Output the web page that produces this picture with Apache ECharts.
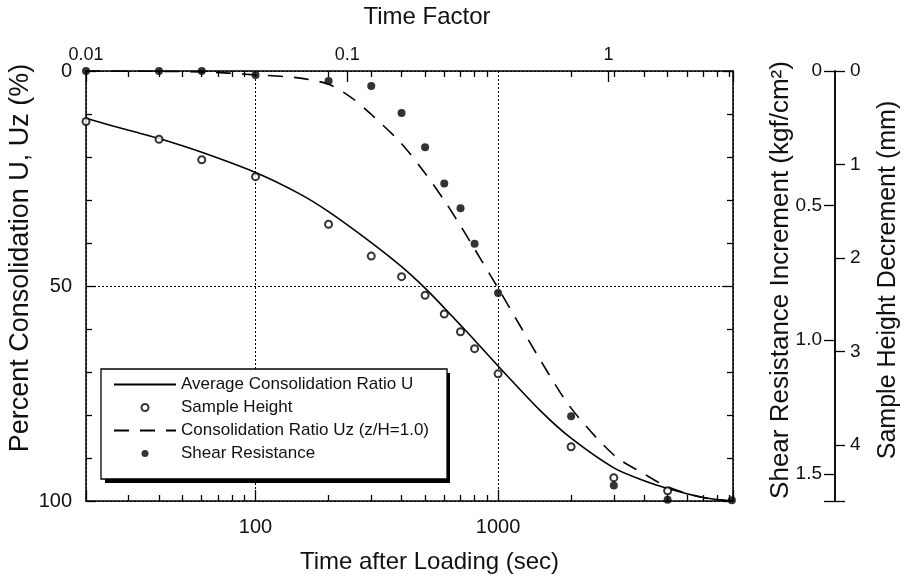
<!DOCTYPE html>
<html>
<head>
<meta charset="utf-8">
<script src="https://cdn.jsdelivr.net/npm/echarts@6/dist/echarts.min.js"></script>
<style>
html, body { margin: 0; padding: 0; background: #fff; }
#chart { width: 904px; height: 580px; }
</style>
</head>
<body>
<div id="chart"></div>
<script>
// average consolidation ratio U (%)
const avgTime = [20, 30, 40, 60, 100, 150, 200, 300, 400, 500, 600, 700, 800, 1000, 1500, 2000, 3000, 4000, 5000, 7000, 9200]
const avgU = [11.0, 13.8, 15.7, 18.9, 23.6, 28.4, 32.7, 39.9, 45.5, 50.5, 55.1, 59.1, 62.6, 68.6, 79.1, 85.4, 92.3, 95.3, 97.1, 99.2, 100]

// consolidation ratio Uz at z/H = 1.0 (%)
const uzTime = [20, 60, 100, 150, 200, 250, 300, 400, 500, 600, 700, 800, 1000, 1500, 2000, 3000, 4000, 5000, 7000, 9200]
const uzVal = [0, 0.2, 0.9, 1.6, 3.1, 6.3, 10.1, 16.9, 23.8, 30.1, 36.0, 41.4, 50.5, 67.4, 78.4, 89.3, 93.7, 96.7, 99.2, 100]

// sample height decrement (mm)
const heightTime = [20, 40, 60, 100, 200, 300, 400, 500, 600, 700, 800, 1000, 2000, 3000, 5000]
const heightMm = [0.54, 0.73, 0.95, 1.13, 1.64, 1.98, 2.20, 2.40, 2.60, 2.79, 2.97, 3.24, 4.02, 4.35, 4.49]

// shear resistance increment (kgf/cm2)
const shearTime = [20, 40, 60, 100, 200, 300, 400, 500, 600, 700, 800, 1000, 2000, 3000, 5000, 9200]
const shearVal = [0, 0, 0, 0.015, 0.037, 0.056, 0.156, 0.284, 0.419, 0.511, 0.643, 0.826, 1.285, 1.542, 1.595, 1.597]

// minor ticks of the time axis (sec)
const minorTimeTicks = [30, 40, 50, 60, 70, 80, 90, 200, 300, 400, 500, 600, 700, 800, 900,
    2000, 3000, 4000, 5000, 6000, 7000, 8000, 9000]

const timeMin = 20
const timeMax = 9300
const font = 'Liberation Sans, Arial, Helvetica, sans-serif'
const black = '#000'
const textColor = '#111'
const noDot = { color: 'rgba(0,0,0,0)', borderColor: 'rgba(0,0,0,0)', borderWidth: 0 }

function pairs(xs, ys) {
    return xs.map((x, i) => [x, ys[i]])
}

function decadeLabel(v) {
    const p = Math.log10(v)
    return Math.abs(p - Math.round(p)) < 1e-6 ? String(+v.toPrecision(6)) : ''
}

const frameLine = { show: true, onZero: false, lineStyle: { color: black, width: 1.5 } }
const tickLine = { color: black, width: 1.3 }

function minorTimeAxis(position) {
    return {
        type: 'value',
        position,
        min: Math.log10(timeMin),
        max: Math.log10(timeMax),
        axisLine: { show: false, onZero: false },
        axisTick: { show: true, inside: true, length: 6, lineStyle: tickLine, customValues: minorTimeTicks.map(Math.log10) },
        axisLabel: { show: false },
        splitLine: { show: false }
    }
}

const chart = echarts.init(document.getElementById('chart'))

const option = {
    backgroundColor: '#fff',
    animation: false,
    textStyle: { fontFamily: font, color: textColor },
    grid: { left: 86, right: 171, top: 71, bottom: 79, outerBoundsMode: 'none', containLabel: false },
    // offset shadow behind the legend box
    graphic: [
        {
            type: 'rect',
            left: 105,
            top: 373,
            z: 3,
            silent: true,
            shape: { width: 345, height: 110 },
            style: { fill: black }
        }
    ],
    legend: {
        orient: 'vertical',
        left: 101,
        top: 369,
        z: 6,
        padding: [7, 18, 17, 12],
        itemWidth: 62,
        itemHeight: 7,
        itemGap: 6,
        itemTextGap: 8,
        backgroundColor: '#fff',
        borderColor: black,
        borderWidth: 1.3,
        textStyle: { fontSize: 17, color: textColor, fontFamily: font },
        data: [
            { name: 'Average Consolidation Ratio U', itemStyle: noDot },
            { name: 'Sample Height' },
            { name: 'Consolidation Ratio Uz (z/H=1.0)', itemStyle: noDot },
            { name: 'Shear Resistance' }
        ]
    },
    xAxis: [
        {
            type: 'log',
            position: 'bottom',
            min: timeMin,
            max: timeMax,
            name: 'Time after Loading (sec)',
            nameLocation: 'middle',
            nameGap: 49,
            nameMoveOverlap: false,
            nameTextStyle: { fontSize: 24, color: textColor, fontFamily: font, padding: [0, 0, 0, 40] },
            axisLine: frameLine,
            axisTick: { inside: true, length: 11, lineStyle: tickLine },
            axisLabel: { fontSize: 20, color: textColor, margin: 16, formatter: decadeLabel },
            splitLine: { show: true, lineStyle: { color: black, width: 1, type: [2, 2] } }
        },
        {
            type: 'log',
            position: 'top',
            min: 0.01,
            max: 3.0,
            name: 'Time Factor',
            nameLocation: 'middle',
            nameGap: 42,
            nameMoveOverlap: false,
            nameTextStyle: { fontSize: 24, color: textColor, fontFamily: font, padding: [0, 0, 0, 35] },
            axisLine: frameLine,
            axisTick: { inside: true, length: 11, lineStyle: tickLine },
            axisLabel: { fontSize: 18, color: textColor, margin: 7, formatter: decadeLabel },
            splitLine: { show: false }
        },
        minorTimeAxis('top'),
        minorTimeAxis('bottom')
    ],
    yAxis: [
        {
            type: 'value',
            position: 'left',
            min: 0,
            max: 100,
            interval: 50,
            inverse: true,
            name: 'Percent Consolidation U, Uz (%)',
            nameLocation: 'middle',
            nameGap: 52,
            nameRotate: 90,
            nameMoveOverlap: false,
            nameTextStyle: { fontSize: 27, color: textColor, fontFamily: font, padding: [0, 0, 0, 56] },
            axisLine: frameLine,
            axisTick: { show: true, inside: true, length: 10, lineStyle: tickLine },
            minorTick: { show: true, splitNumber: 5, length: 6, lineStyle: tickLine },
            axisLabel: { fontSize: 20, color: textColor, margin: 14 },
            splitLine: { show: true, lineStyle: { color: black, width: 1, type: [2, 2] } }
        },
        {
            type: 'value',
            position: 'right',
            offset: 0,
            min: 0,
            max: 100,
            interval: 50,
            inverse: true,
            axisLine: frameLine,
            axisTick: { show: true, inside: true, length: 10, lineStyle: tickLine },
            minorTick: { show: true, splitNumber: 5, length: 6, lineStyle: tickLine },
            axisLabel: { show: false },
            splitLine: { show: false }
        },
        {
            type: 'value',
            position: 'right',
            offset: 102,
            min: 0,
            max: 1.6,
            interval: 0.5,
            inverse: true,
            name: 'Shear Resistance Increment (kgf/cm²)',
            nameLocation: 'middle',
            nameGap: -67,
            nameRotate: 90,
            nameMoveOverlap: false,
            nameTextStyle: { fontSize: 26, color: textColor, fontFamily: font, padding: [0, 0, 0, 12] },
            axisLine: frameLine,
            axisTick: { show: true, inside: true, length: 11, lineStyle: tickLine },
            axisLabel: {
                inside: true,
                fontSize: 19,
                color: textColor,
                margin: 13,
                formatter: v => Math.abs(v * 2 - Math.round(v * 2)) < 1e-6 ? (v === 0 ? '0' : v.toFixed(1)) : ''
            },
            splitLine: { show: false }
        },
        {
            type: 'value',
            position: 'right',
            offset: 102,
            min: 0,
            max: 4.6,
            interval: 1,
            inverse: true,
            name: 'Sample Height Decrement (mm)',
            nameLocation: 'middle',
            nameGap: 41,
            nameRotate: 90,
            nameMoveOverlap: false,
            nameTextStyle: { fontSize: 25, color: textColor, fontFamily: font, padding: [0, 0, 0, 12] },
            axisLine: frameLine,
            axisTick: { show: true, inside: false, length: 10, lineStyle: tickLine },
            axisLabel: {
                fontSize: 19,
                color: textColor,
                margin: 15,
                formatter: v => Number.isInteger(v) ? String(v) : ''
            },
            splitLine: { show: false }
        }
    ],
    series: [
        {
            name: 'Average Consolidation Ratio U',
            type: 'line',
            xAxisIndex: 0,
            yAxisIndex: 0,
            data: pairs(avgTime, avgU),
            smooth: 0.3,
            symbol: 'none',
            lineStyle: { color: black, width: 1.6 },
            itemStyle: { color: black }
        },
        {
            name: 'Sample Height',
            type: 'scatter',
            xAxisIndex: 0,
            yAxisIndex: 3,
            data: pairs(heightTime, heightMm),
            symbol: 'emptyCircle',
            symbolSize: 7,
            clip: false,
            z: 5,
            itemStyle: { color: black, borderColor: black, borderWidth: 1.5 }
        },
        {
            name: 'Consolidation Ratio Uz (z/H=1.0)',
            type: 'line',
            xAxisIndex: 0,
            yAxisIndex: 0,
            data: pairs(uzTime, uzVal),
            smooth: 0.3,
            symbol: 'none',
            lineStyle: { color: black, width: 1.6, type: [15, 11] },
            itemStyle: { color: black }
        },
        {
            name: 'Shear Resistance',
            type: 'scatter',
            xAxisIndex: 0,
            yAxisIndex: 2,
            data: pairs(shearTime, shearVal),
            symbol: 'circle',
            symbolSize: 8,
            clip: false,
            z: 5,
            itemStyle: { color: black }
        }
    ]
}

chart.setOption(option)
</script>
</body>
</html>
